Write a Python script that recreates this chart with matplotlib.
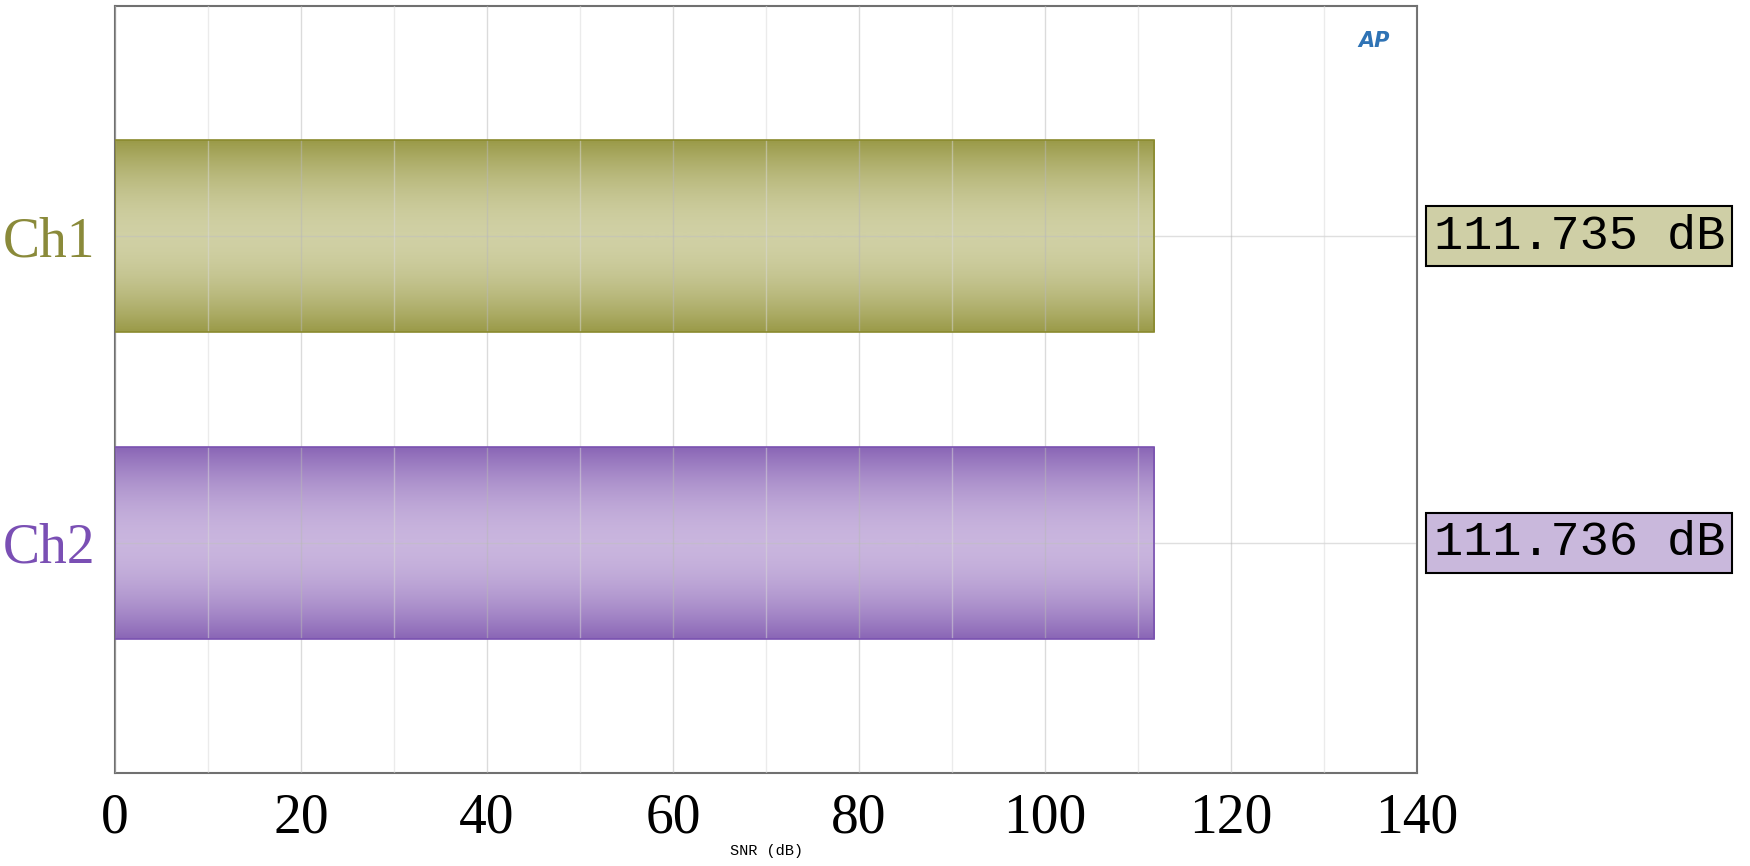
import matplotlib
matplotlib.use("Agg")
import matplotlib.pyplot as plt
import numpy as np
from matplotlib.colors import LinearSegmentedColormap

channels = ["Ch1", "Ch2"]
values = [111.735, 111.736]
labels = ["111.735 dB", "111.736 dB"]
xticks = [0, 20, 40, 60, 80, 100, 120, 140]

dark = ["#9a9a48", "#8a66b6"]
light = ["#d0d0a4", "#c9b5de"]
edge = ["#8a8a2e", "#7a52b0"]
txtc = ["#8a8a3a", "#7a4fb4"]
boxc = ["#cfcfa6", "#c9b8dc"]

fig = plt.figure(figsize=(17.5, 8.66), dpi=100)
ax = fig.add_axes([115/1750, 1-773/866, (1417-115)/1750, (773-6)/866])
h = 0.625
grad = (np.abs(np.linspace(-1, 1, 256)) ** 1.8)[:, None]
for i, (ch, v) in enumerate(zip(channels, values)):
    cmap = LinearSegmentedColormap.from_list("g", [light[i], dark[i]])
    ax.imshow(grad, cmap=cmap, aspect="auto", extent=[0, v, i + h/2, i - h/2], zorder=1)
    ax.add_patch(plt.Rectangle((0, i - h/2), v, h, fill=False, ec=edge[i], lw=1.2, zorder=3))
ax.set_xlim(0, 140)
ax.set_ylim(1.75, -0.75)
ax.set_xticks(xticks)
ax.set_xticks(np.arange(10, 140, 20), minor=True)
ax.grid(True, which="major", axis="x", color="#b8b8b8", lw=1, alpha=0.5, zorder=2)
ax.grid(True, which="minor", axis="x", color="#d8d8d8", lw=1, alpha=0.5, zorder=2)
ax.set_axisbelow(False)
for i in range(len(channels)):
    ax.axhline(i, color="#c0c0c0", lw=1, alpha=0.5, zorder=2)
ax.set_yticks(range(len(channels)))
ax.set_yticklabels(channels, family="Liberation Serif", fontsize=40)
for t, c in zip(ax.get_yticklabels(), txtc):
    t.set_color(c)
ax.tick_params(which="both", length=0, pad=14)
ax.set_xticklabels([str(x) for x in xticks], family="Liberation Serif", fontsize=40)
for s in ax.spines.values():
    s.set_color("#707070"); s.set_linewidth(1.5)
ax.set_xlabel("SNR (dB)", family="Liberation Mono", fontsize=11, labelpad=0)
for i, lab in enumerate(labels):
    ax.annotate(lab, xy=(1.0, i), xycoords=("axes fraction", "data"), xytext=(12, 0),
                textcoords="offset points", ha="left", va="center",
                family="Liberation Mono", fontsize=35, annotation_clip=False,
                bbox=dict(boxstyle="square,pad=0.15", fc=boxc[i], ec="black", lw=1.5))
ax.text(0.967, 0.955, "AP", transform=ax.transAxes, color="#2f73b5", fontsize=15,
        fontweight="bold", style="italic", ha="center", va="center")
fig.savefig("out.png", dpi=100)
